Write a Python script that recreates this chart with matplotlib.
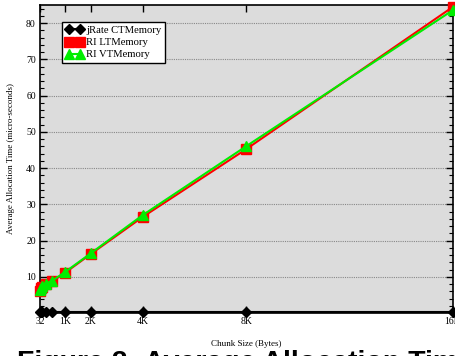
import matplotlib
matplotlib.use("Agg")
import matplotlib.pyplot as plt
from matplotlib.ticker import MultipleLocator, FixedLocator

# Chunk sizes in bytes
chunk_sizes = [32, 64, 128, 256, 512, 1024, 2048, 4096, 8192, 16384]
tick_positions = [32, 1024, 2048, 4096, 8192, 16384]
tick_labels = ["32", "1K", "2K", "4K", "8K", "16K"]

# Average allocation time (micro-seconds)
jrate_ct = [0.4, 0.4, 0.4, 0.4, 0.4, 0.4, 0.4, 0.4, 0.4, 0.4]
ri_lt = [6.2, 6.8, 7.3, 7.9, 8.7, 11.1, 16.3, 26.5, 45.2, 84.5]
ri_vt = [6.3, 6.9, 7.4, 8.1, 8.9, 11.3, 16.5, 27.0, 46.0, 83.6]

serif = ["Liberation Serif", "DejaVu Serif"]

fig = plt.figure(figsize=(4.56, 3.56), dpi=100)
ax = fig.add_axes([40 / 456, 1 - 313 / 356, 413 / 456, 308 / 356])
ax.set_facecolor("#dcdcdc")

ax.plot(chunk_sizes, jrate_ct, color="black", lw=1.5, marker="D", ms=5,
        label="jRate CTMemory", clip_on=False, zorder=3)
ax.plot(chunk_sizes, ri_lt, color="#ff0000", lw=1.5, marker="s", ms=6.5,
        label="RI LTMemory", clip_on=False, zorder=4)
ax.plot(chunk_sizes, ri_vt, color="#00ee00", lw=1.5, marker="^", ms=7,
        label="RI VTMemory", clip_on=False, zorder=5)

ax.set_xlim(32, 16384)
ax.set_ylim(0, 85)

ax.xaxis.set_major_locator(FixedLocator(tick_positions))
ax.set_xticklabels(tick_labels, fontfamily=serif, fontsize=7)
ax.yaxis.set_minor_locator(MultipleLocator(2))
ax.set_yticks(range(10, 81, 10))
ax.set_yticklabels([str(v) for v in range(10, 81, 10)], fontfamily=serif, fontsize=7)

ax.tick_params(which="both", direction="in", top=True, right=True)
ax.tick_params(which="major", length=5, width=1, pad=3)
ax.tick_params(which="minor", length=3, width=0.8)
for s in ax.spines.values():
    s.set_linewidth(1.2)

ax.grid(axis="y", which="major", color="#888888", linestyle=(0, (1, 1)), lw=0.8)
ax.set_axisbelow(True)

ax.set_xlabel("Chunk Size (Bytes)", fontfamily=serif, fontsize=6.5, labelpad=10)
ax.set_ylabel("Average Allocation Time (micro-seconds)", fontfamily=serif,
              fontsize=6.5, labelpad=8)

leg = ax.legend(loc="upper left", bbox_to_anchor=(0.053, 0.945), borderaxespad=0,
                numpoints=2, prop={"family": serif, "size": 7.7}, fancybox=False,
                edgecolor="black", framealpha=1, handlelength=1.6,
                borderpad=0.35, labelspacing=0.25, handletextpad=0.3)
leg.get_frame().set_linewidth(1)

# Caption below the chart; its lower part falls outside the canvas
fig.text(17 / 456, 1 - 370 / 356, "Figure 2: Average Allocation Time",
         fontfamily=["Liberation Sans", "DejaVu Sans"], fontweight="bold",
         fontsize=20.5, va="baseline", ha="left")

fig.savefig("out.png", dpi=100)
